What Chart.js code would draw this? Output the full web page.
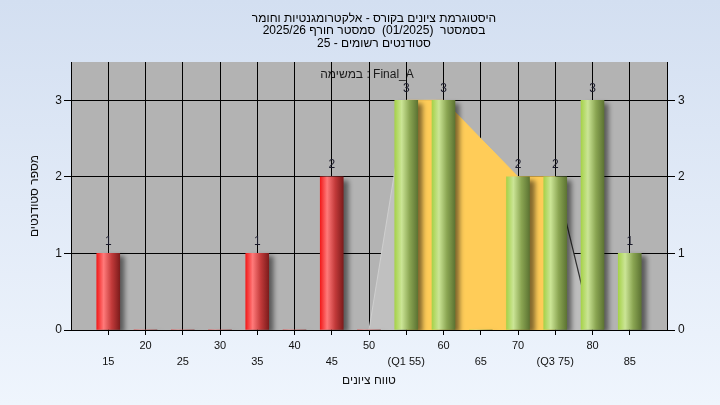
<!DOCTYPE html>
<html>
<head>
<meta charset="utf-8">
<script src="https://cdn.jsdelivr.net/npm/chart.js"></script>
<style>
  html, body { margin: 0; padding: 0; }
  body { width: 720px; height: 405px; background: linear-gradient(#d3dff1, #eff5fd); }
</style>
</head>
<body>
<canvas id="histogram" width="720" height="405"></canvas>
<script>
// grade buckets and number of students in each
const grades = [15, 20, 25, 30, 35, 40, 45, 50, 55, 60, 65, 70, 75, 80, 85];
const counts = [1, 0, 0, 0, 1, 0, 2, 0, 3, 3, 0, 2, 2, 3, 1];
const passMark = 55;
const q1 = 55;
const q3 = 75;
// outline polygon behind the bars
const polyX = [50, 55, 60, 70, 75, 80];
const polyY = [0, 3, 3, 2, 2, 0];
const yTicks = [0, 1, 2, 3];

const titleLines = [
    'היסטוגרמת ציונים בקורס - אלקטרומגנטיות וחומר',
    'בסמסטר  (01/2025)  סמסטר חורף 2025/26',
    'סטודנטים רשומים - 25'
];
const xTitle = 'טווח ציונים';
const yTitle = 'מספר סטודנטים';
const seriesLabel = 'במשימה : Final_A';

const FONT = "'Liberation Sans', 'DejaVu Sans', sans-serif";

const redStops = [[0, '#f21c1c'], [0.3, '#ff7a7a'], [0.65, '#c23a3a'], [1, '#7e1c1c']];
const greenStops = [[0, '#a6d24a'], [0.3, '#cbe596'], [0.65, '#8aa552'], [1, '#5d7433']];

function barFill(ctx) {
    const chart = ctx.chart;
    const raw = ctx.raw;
    if (!chart.chartArea || !raw) return '#999';
    const x = chart.scales.x.getPixelForValue(raw.x);
    const g = chart.ctx.createLinearGradient(x - 11.5, 0, x + 11.5, 0);
    const stops = raw.x < passMark ? redStops : greenStops;
    stops.forEach(s => g.addColorStop(s[0], s[1]));
    return g;
}

function polyPart(test) {
    const pts = [];
    polyX.forEach((v, i) => { if (test(v)) pts.push({ x: v, y: polyY[i] }); });
    return pts;
}

const plotBackground = {
    id: 'plotBackground',
    beforeDraw(chart) {
        const { ctx, chartArea: a } = chart;
        ctx.save();
        ctx.fillStyle = '#b3b3b3';
        ctx.fillRect(a.left, a.top, a.right - a.left, a.bottom - a.top);
        ctx.font = '12px ' + FONT;
        ctx.fillStyle = '#1a1a1a';
        ctx.textAlign = 'center';
        ctx.textBaseline = 'middle';
        ctx.fillText(seriesLabel, 367, a.top + 13);
        ctx.restore();
    }
};

const barShadow = {
    id: 'barShadow',
    beforeDatasetDraw(chart, args) {
        if (args.meta.type !== 'bar') return;
        const c = chart.ctx;
        c.save();
        c.shadowColor = 'rgba(0,0,0,0.5)';
        c.shadowBlur = 5;
        c.shadowOffsetX = 5;
        c.shadowOffsetY = 3;
    },
    afterDatasetDraw(chart, args) {
        if (args.meta.type !== 'bar') return;
        chart.ctx.restore();
    }
};

const barValues = {
    id: 'barValues',
    afterDatasetsDraw(chart) {
        const meta = chart.getDatasetMeta(0);
        const c = chart.ctx;
        c.save();
        c.font = '12px ' + FONT;
        c.fillStyle = '#1a1a2a';
        c.textAlign = 'center';
        c.textBaseline = 'bottom';
        meta.data.forEach((el, i) => {
            if (!counts[i]) return;
            c.fillText(String(counts[i]), el.x, el.y - 6);
        });
        c.restore();
    }
};

function fixedTicks(list) {
    return scale => { scale.ticks = list.map(v => ({ value: v })); };
}

new Chart(document.getElementById('histogram'), {
    data: {
        datasets: [{
            type: 'bar',
            data: grades.map((g, i) => ({ x: g, y: counts[i] })),
            backgroundColor: barFill,
            borderWidth: 0,
            barThickness: 23,
            order: 0
        }, {
            type: 'line',
            data: polyPart(v => v >= q1 && v <= q3),
            fill: 'origin',
            backgroundColor: '#ffcc58',
            borderColor: '#ffcc58',
            borderWidth: 1,
            pointRadius: 0,
            tension: 0,
            order: 1
        }, {
            type: 'line',
            data: polyPart(v => v <= q1),
            fill: 'origin',
            backgroundColor: '#c0c0c0',
            borderColor: '#cfcfcf',
            borderWidth: 1,
            pointRadius: 0,
            tension: 0,
            order: 2
        }, {
            type: 'line',
            data: polyPart(v => v >= q3),
            fill: 'origin',
            backgroundColor: '#bdbdbd',
            borderColor: '#2e2e2e',
            borderWidth: 1.2,
            pointRadius: 0,
            tension: 0,
            order: 3
        }]
    },
    options: {
        responsive: false,
        animation: false,
        layout: { padding: { left: 28, right: 0, top: 0, bottom: 17 } },
        plugins: {
            legend: { display: false },
            tooltip: { enabled: false },
            title: {
                display: true,
                text: titleLines,
                color: '#000',
                font: { family: FONT, size: 12, weight: 'normal', lineHeight: '12.5px' },
                padding: { top: 12, bottom: 12.5 }
            }
        },
        scales: {
            x: {
                type: 'linear',
                min: 10,
                max: 90,
                offset: false,
                afterBuildTicks: fixedTicks(grades),
                afterFit: s => { s.height = 58; },
                grid: { color: '#000', lineWidth: 1, tickLength: 5, offset: false },
                border: { color: '#000' },
                ticks: {
                    autoSkip: false,
                    maxRotation: 0,
                    minRotation: 0,
                    padding: 3,
                    color: '#111',
                    font: { family: FONT, size: 11, lineHeight: '16px' },
                    callback: v => {
                        let label = String(v);
                        if (v === q1) label = '(Q1 ' + v + ')';
                        if (v === q3) label = '(Q3 ' + v + ')';
                        return v % 10 === 0 ? [label] : ['', label];
                    }
                },
                title: {
                    display: true,
                    text: xTitle,
                    color: '#111',
                    padding: 0,
                    font: { family: FONT, size: 12, lineHeight: '14px' }
                }
            },
            y: {
                position: 'left',
                min: 0,
                max: 3.5,
                afterBuildTicks: fixedTicks(yTicks),
                afterFit: s => { s.width = 43; },
                grid: { color: '#000', lineWidth: 1, tickLength: 7 },
                border: { color: '#000' },
                ticks: {
                    padding: 2,
                    color: '#111',
                    font: { family: FONT, size: 12 }
                },
                title: {
                    display: true,
                    text: yTitle,
                    color: '#111',
                    padding: 0,
                    font: { family: FONT, size: 12, lineHeight: '14px' }
                }
            },
            y2: {
                position: 'right',
                min: 0,
                max: 3.5,
                afterBuildTicks: fixedTicks(yTicks),
                afterFit: s => { s.width = 53; },
                grid: { color: '#000', lineWidth: 1, tickLength: 8, drawOnChartArea: false },
                border: { color: '#000' },
                ticks: {
                    padding: 3,
                    color: '#111',
                    font: { family: FONT, size: 12 }
                }
            }
        }
    },
    plugins: [plotBackground, barShadow, barValues]
});
</script>
</body>
</html>
